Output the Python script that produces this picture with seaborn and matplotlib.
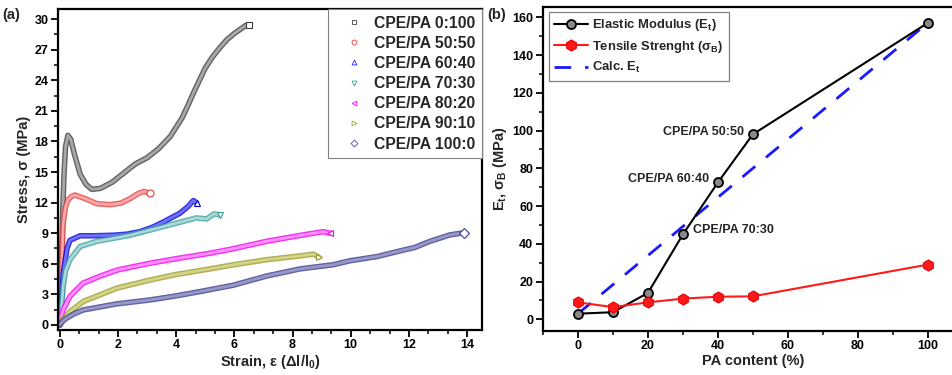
import matplotlib
matplotlib.use("Agg")
import matplotlib.pyplot as plt
import matplotlib.patheffects as pe
from matplotlib.lines import Line2D
from matplotlib.ticker import MultipleLocator
import seaborn as sns
import pandas as pd

sns.set_theme(style="ticks")
plt.rcParams['font.family'] = ['Liberation Sans', 'DejaVu Sans']
plt.rcParams['font.weight'] = 'bold'
plt.rcParams['mathtext.fontset'] = 'custom'
plt.rcParams['mathtext.rm'] = 'Liberation Sans:bold'
plt.rcParams['mathtext.it'] = 'Liberation Sans:bold'
plt.rcParams['mathtext.bf'] = 'Liberation Sans:bold'

# ---------------- Panel (a) data: stress-strain curves ----------------
labels_a = ["CPE/PA 0:100", "CPE/PA 50:50", "CPE/PA 60:40", "CPE/PA 70:30",
            "CPE/PA 80:20", "CPE/PA 90:10", "CPE/PA 100:0"]

strain_0_100 = [0, 0.05, 0.1, 0.15, 0.2, 0.28, 0.38, 0.5, 0.7, 0.9, 1.1, 1.4, 1.8, 2.2,
                2.6, 3.0, 3.4, 3.8, 4.0, 4.2, 4.4, 4.6, 4.8, 5.0, 5.25, 5.5, 5.75, 6.0,
                6.2, 6.4, 6.5]
stress_0_100 = [0, 5, 11, 15, 17.5, 18.6, 18.2, 16.8, 14.8, 13.8, 13.3, 13.4, 14.0, 14.9,
                15.8, 16.4, 17.3, 18.5, 19.4, 20.3, 21.5, 22.8, 24.0, 25.2, 26.3, 27.2, 28.0,
                28.6, 29.0, 29.4, 29.4]

strain_50_50 = [0, 0.05, 0.12, 0.2, 0.29, 0.4, 0.52, 0.86, 1.27, 1.73, 2.1, 2.42, 2.7, 2.9, 3.1]
stress_50_50 = [0, 4, 10.0, 11.6, 12.3, 12.6, 12.75, 12.4, 11.9, 11.8, 11.95, 12.4, 12.9, 13.1, 12.9]

strain_60_40 = [0, 0.05, 0.12, 0.25, 0.35, 0.7, 1.2, 1.84, 2.3, 2.76, 3.2, 3.56, 4.13, 4.4, 4.59, 4.7]
stress_60_40 = [0, 2, 5.1, 7.5, 8.3, 8.75, 8.75, 8.8, 8.9, 9.15, 9.6, 10.1, 10.96, 11.6, 12.2, 12.0]

strain_70_30 = [0, 0.06, 0.12, 0.2, 0.35, 0.7, 1.27, 2.42, 3.56, 4.7, 5.05, 5.3, 5.5]
stress_70_30 = [0, 1.5, 3.8, 5.3, 6.4, 7.7, 8.2, 8.8, 9.65, 10.5, 10.4, 10.9, 10.8]

strain_80_20 = [0, 0.05, 0.12, 0.35, 0.8, 1.4, 2.0, 3.1, 4.0, 5.2, 6.0, 7.1, 8.3, 9.05, 9.3]
stress_80_20 = [0, 0.8, 1.5, 2.8, 4.1, 4.8, 5.4, 6.05, 6.5, 7.05, 7.5, 8.2, 8.8, 9.15, 9.0]

strain_90_10 = [0, 0.1, 0.35, 0.81, 1.95, 3.1, 4.0, 5.17, 5.97, 7.11, 8.26, 8.72, 8.9]
stress_90_10 = [0, 0.5, 1.3, 2.3, 3.6, 4.4, 4.95, 5.5, 5.9, 6.4, 6.77, 6.95, 6.65]

strain_100_0 = [0, 0.1, 0.23, 0.5, 0.81, 1.95, 3.1, 4.0, 4.82, 5.97, 7.11, 8.26, 9.39,
                9.98, 10.89, 11.69, 12.2, 12.72, 13.4, 13.9]
stress_100_0 = [0, 0.35, 0.66, 1.1, 1.47, 2.06, 2.45, 2.85, 3.27, 3.9, 4.8, 5.5, 5.9,
                6.3, 6.7, 7.26, 7.6, 8.2, 8.83, 9.05]

strains = [strain_0_100, strain_50_50, strain_60_40, strain_70_30, strain_80_20, strain_90_10, strain_100_0]
stresses = [stress_0_100, stress_50_50, stress_60_40, stress_70_30, stress_80_20, stress_90_10, stress_100_0]

# ---------------- Panel (b) data ----------------
pa_content = [0, 10, 20, 30, 40, 50, 100]
elastic_modulus = [3, 3.8, 14, 45, 72.5, 98, 157]
tensile_strength = [9, 6.5, 9, 11, 12, 12.2, 29]
calc_pa = [0, 100]
calc_modulus = [3, 157]
annot_labels = ["CPE/PA 70:30", "CPE/PA 60:40", "CPE/PA 50:50"]

# styles
outer_cols = ["#3c3c3c", "#e83c3c", "#0000d8", "#3c9c9c", "#f000f0", "#9a9a2a", "#3c3c8c"]
inner_cols = ["#a8a8a8", "#f8a8a8", "#7070ff", "#a8d8d8", "#ff90ff", "#d4d488", "#9898c8"]
legend_cols = ["#444444", "#ff3030", "#2020ff", "#3c9c9c", "#ff00ff", "#a0a030", "#5050b0"]
markers = ["s", "o", "^", "v", "<", ">", "D"]

W, H = 953, 375
fig = plt.figure(figsize=(W / 100, H / 100), dpi=100)
axa = fig.add_axes([58 / W, 1 - 329.5 / H, (481.7 - 58) / W, (329.5 - 9) / H])
axb = fig.add_axes([543 / W, 1 - 330.7 / H, (962.7 - 543) / W, (330.7 - 6.7) / H])

frames = []
for lab, sx, sy in zip(labels_a, strains, stresses):
    frames.append(pd.DataFrame({"strain": sx, "stress": sy, "blend": lab}))
df_a = pd.concat(frames, ignore_index=True)

pal = dict(zip(labels_a, inner_cols))
sns.lineplot(data=df_a, x="strain", y="stress", hue="blend", palette=pal,
             sort=False, estimator=None, ax=axa, legend=False, linewidth=2.0)
for line, oc in zip(list(axa.lines), outer_cols):
    line.set_path_effects([pe.Stroke(linewidth=4.0, foreground=oc, alpha=0.8), pe.Normal()])
    line.set_solid_joinstyle('round')
    line.set_solid_capstyle('round')

for sx, sy, oc, mk in zip(strains, stresses, outer_cols, markers):
    axa.plot(sx[-1:], sy[-1:], linestyle='none', marker=mk, markersize=5,
             markerfacecolor='white', markeredgecolor=oc, markeredgewidth=0.8, zorder=3)

axa.set_xlim(-0.06, 14.5)
axa.set_ylim(-0.45, 31)
axa.xaxis.set_major_locator(MultipleLocator(2))
axa.xaxis.set_minor_locator(MultipleLocator(2 / 3))
axa.yaxis.set_major_locator(MultipleLocator(3))
axa.yaxis.set_minor_locator(MultipleLocator(1.5))
axa.set_xlabel(r"Strain, ε (Δl/l$_0$)", fontsize=10.5, fontweight='bold', labelpad=1)
axa.set_ylabel("Stress, σ (MPa)", fontsize=10.5, fontweight='bold', labelpad=2)

handles = [Line2D([], [], linestyle='none', marker=mk, markersize=3.5, markerfacecolor='none',
                  markeredgecolor=c, markeredgewidth=0.6) for mk, c in zip(markers, legend_cols)]
lg = axa.legend(handles, labels_a, loc='upper right', bbox_to_anchor=(1, 1), borderaxespad=0,
                frameon=True, fancybox=False, edgecolor='#808080', framealpha=1,
                prop={'weight': 'bold', 'size': 11.3}, labelspacing=0.33, handlelength=2.4,
                handletextpad=0.08, borderpad=0.42)
lg.get_frame().set_linewidth(0.8)

# Panel (b)
sns.lineplot(x=pa_content, y=elastic_modulus, ax=axb, color='black', linewidth=1.5,
             marker='o', markersize=6.5, markerfacecolor='#8a8a8a', markeredgecolor='black',
             markeredgewidth=1.3, label=r"Elastic Modulus (E$_t$)", legend=False)
sns.lineplot(x=pa_content, y=tensile_strength, ax=axb, color='#ff1a1a', linewidth=1.5,
             marker='h', markersize=8, markerfacecolor='#ff1a1a', markeredgecolor='#e00000',
             label=r"Tensile Strenght (σ$_B$)", legend=False)
sns.lineplot(x=calc_pa, y=calc_modulus, ax=axb, color='#1a1aff', linewidth=2.0,
             label=r"Calc. E$_t$", legend=False)
axb.lines[2].set_dashes([6, 5])
axb.lines[2].set_zorder(1.5)

offsets = [(10, 4), (-9, 3.5), (-9, 2.5)]
has = ['left', 'right', 'right']
for lab, idx, off, ha in zip(annot_labels, [3, 4, 5], offsets, has):
    axb.annotate(lab, xy=(pa_content[idx], elastic_modulus[idx]), xytext=off,
                 textcoords='offset pixels', ha=ha, va='center', fontsize=9, fontweight='bold')

axb.set_xlim(-10, 110)
axb.set_ylim(-6, 165.6)
axb.xaxis.set_major_locator(MultipleLocator(20))
axb.xaxis.set_minor_locator(MultipleLocator(10))
axb.yaxis.set_major_locator(MultipleLocator(20))
axb.yaxis.set_minor_locator(MultipleLocator(10))
axb.set_xlabel("PA content (%)", fontsize=10.5, fontweight='bold', labelpad=1)
axb.set_ylabel(r"E$_t$, σ$_B$ (MPa)", fontsize=10.5, fontweight='bold', labelpad=2)
lgb = axb.legend(loc='upper left', bbox_to_anchor=(6 / 419.7, 1 - 5.3 / 324), borderaxespad=0,
                 frameon=True, fancybox=False, edgecolor='#808080', framealpha=1,
                 prop={'weight': 'bold', 'size': 9.4}, labelspacing=0.42, handlelength=2.6,
                 handletextpad=0.3, borderpad=0.4)
lgb.get_frame().set_linewidth(0.9)

for ax in (axa, axb):
    for s in ax.spines.values():
        s.set_linewidth(1.6)
        s.set_color('black')
    ax.tick_params(which='major', direction='out', length=5, width=1.3, labelsize=9,
                   color='black', labelcolor='black', pad=2)
    ax.tick_params(which='minor', direction='out', length=3, width=1.1, color='black')
    for t in ax.get_xticklabels() + ax.get_yticklabels():
        t.set_fontweight('bold')

fig.text(2 / W, 1 - 15 / H, "(a)", fontsize=10.5, fontweight='bold', va='center')
fig.text(487 / W, 1 - 15 / H, "(b)", fontsize=10.5, fontweight='bold', va='center')

fig.savefig("out.png", dpi=100)
